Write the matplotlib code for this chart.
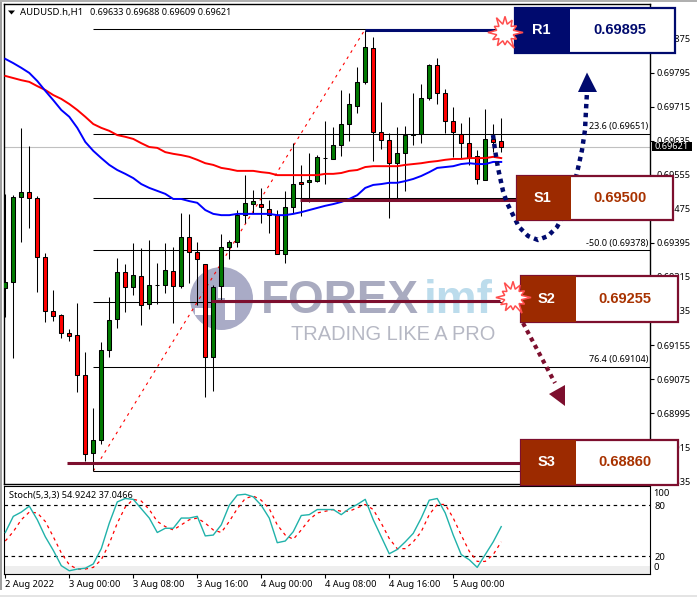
import numpy as np
import matplotlib
matplotlib.use("Agg")
import matplotlib.pyplot as plt
from matplotlib.patches import Rectangle, Polygon, Circle

W, H = 697, 597
FONT = "Noto Sans"
plt.rcParams["font.family"] = [FONT, "DejaVu Sans"]

# ---- data ----
opens = [.69289,.69303,.69503,.69514,.69500,.69362,.69235,.69226,.69183,.69179,.69085,.68901,.68932,.69143,.69216,.69327,
         .69291,.69317,.69251,.69296,.69296,.69329,.69294,.69409,.69374,.69345,.69127,.69294,.69385,.69397,.69460,.69486,
         .69486,.69474,.69460,.69369,.69479,.69538,.69538,.69540,.69594,.69592,.69625,.69674,.69716,.69773,.69852,.69655,
         .69636,.69582,.69606,.69648,.69651,.69735,.69813,.69747,.69681,.69651,.69629,.69599,.69543,.69639,.69633]
closes= [.69303,.69503,.69514,.69500,.69362,.69235,.69223,.69183,.69176,.69085,.68899,.68932,.69143,.69214,.69327,.69291,
         .69320,.69249,.69296,.69296,.69331,.69294,.69409,.69374,.69357,.69127,.69291,.69385,.69397,.69460,.69489,.69493,
         .69479,.69460,.69369,.69479,.69533,.69533,.69543,.69596,.69594,.69625,.69674,.69721,.69773,.69854,.69655,.69636,
         .69582,.69606,.69648,.69651,.69735,.69813,.69747,.69681,.69655,.69629,.69594,.69545,.69639,.69632,.69621]
highs = [.69510,.69507,.69665,.69622,.69505,.69371,.69284,.69228,.69193,.69254,.69139,.69007,.69162,.69268,.69360,.69345,
         .69395,.69383,.69402,.69348,.69395,.69385,.69465,.69463,.69397,.69345,.69296,.69416,.69402,.69472,.69554,.69519,
         .69524,.69496,.69472,.69517,.69629,.69578,.69606,.69601,.69681,.69667,.69754,.69747,.69808,.69894,.69878,.69726,
         .69653,.69667,.69669,.69747,.69768,.69815,.69829,.69756,.69714,.69676,.69691,.69613,.69709,.69674,.69688]
lows  = [.69221,.69125,.69397,.69430,.69280,.69209,.69211,.69172,.69164,.69045,.68883,.68859,.68923,.69127,.69195,.69233,
         .69272,.69202,.69240,.69251,.69277,.69207,.69289,.69301,.69249,.69033,.69047,.69261,.69357,.69385,.69442,.69465,
         .69442,.69418,.69369,.69348,.69465,.69458,.69491,.69538,.69533,.69592,.69599,.69634,.69700,.69768,.69587,.69615,
         .69453,.69496,.69517,.69625,.69629,.69730,.69721,.69653,.69597,.69594,.69578,.69533,.69543,.69608,.69609]
ma_red = [.69787,.69782,.69777,.69773,.69763,.69754,.69742,.69733,.69721,.69707,.69691,.69674,.69665,.69658,.69648,.69644,
          .69639,.69629,.69620,.69618,.69608,.69604,.69601,.69597,.69590,.69582,.69578,.69571,.69568,.69564,.69564,.69564,
          .69561,.69559,.69554,.69554,.69554,.69554,.69554,.69554,.69557,.69557,.69559,.69564,.69566,.69573,.69575,.69575,
          .69575,.69575,.69578,.69580,.69582,.69585,.69587,.69590,.69592,.69592,.69594,.69594,.69594,.69597,.69594]
ma_blue= [.69827,.69817,.69806,.69794,.69775,.69752,.69730,.69707,.69691,.69665,.69632,.69611,.69594,.69578,.69566,.69557,
          .69547,.69533,.69524,.69517,.69510,.69498,.69498,.69493,.69489,.69472,.69463,.69460,.69460,.69463,.69463,.69463,
          .69463,.69463,.69460,.69460,.69463,.69467,.69472,.69477,.69482,.69486,.69491,.69498,.69507,.69524,.69531,.69533,
          .69536,.69536,.69540,.69545,.69552,.69561,.69571,.69573,.69575,.69580,.69582,.69580,.69580,.69585,.69585]
stoch_k = [48,67,72,79,63,43,27,9,3,5,6,11,29,59,84,88,87,76,65,48,53,53,65,65,67,44,45,57,80,92,93,90,80,65,36,38,49,68,69,
           75,75,75,69,76,81,87,63,43,23,28,37,47,65,86,88,71,45,22,16,7,22,37,54.92]
stoch_d = [38,49,63,72,71,61,43,24,10,5,5,7,16,35,59,78,87,85,75,61,55,51,57,63,65,59,51,48,61,76,88,91,86,76,57,45,40,51,63,
           71,73,75,73,73,77,81,75,59,41,29,29,37,49,69,81,81,65,45,26,14,14,22,37.05]
fib_levels = [.69897, .69651, .69500, .69378, .69255, .69104, .68859]
fib_labels = {.69651: "23.6 (0.69651)", .69378: "-50.0 (0.69378)", .69104: "76.4 (0.69104)"}
fib_start, fib_end = 11, 45
r1, s1, s2, s3 = .69894, .69495, .69259, .68877
last_price = .69621
price_ticks = [.69875,.69795,.69715,.69635,.69555,.69475,.69395,.69315,.69235,.69155,.69075,.68995,.68915,.68835]
time_ticks = [0, 8, 16, 24, 32, 40, 48, 56]
time_labels = ["2 Aug 2022","3 Aug 00:00","3 Aug 08:00","3 Aug 16:00","4 Aug 00:00","4 Aug 08:00","4 Aug 16:00","5 Aug 00:00"]
stoch_ticks = [80, 20]
boxes = [("R1", "0.69895"), ("S1", "0.69500"), ("S2", "0.69255"), ("S3", "0.68860")]

NAVY, MAROON, RUST = "#000a6e", "#7d0f2e", "#9c2a00"

fig = plt.figure(figsize=(W/100, H/100), dpi=100, facecolor="white")
def pax(x0, y0, x1, y1, **k):
    return fig.add_axes([x0/W, 1-y1/H, (x1-x0)/W, (y1-y0)/H], **k)

# ---- main price panel ----
ax = pax(4.3, 4.3, 650, 484)
ax.set_xlim(-0.125, 80.6)
ax.set_ylim(.688286, .699552)
x = np.arange(len(opens))

# watermark (below the marks)
ax.set_facecolor("none")
wm = pax(0, 0, W, H, zorder=-1)
wm.set_xlim(0, W); wm.set_ylim(H, 0); wm.axis("off")
wm.add_patch(Circle((221.5, 298.5), 31.5, fc="#a9abc6", ec="none"))
wm.add_patch(Rectangle((218, 287), 17, 11, fc="white", ec="none"))
wm.add_patch(Rectangle((225, 287), 10, 33, fc="white", ec="none"))
wm.add_patch(Rectangle((195, 308), 20, 7, fc="white", ec="none"))
wm.text(261, 301, "FOREX", fontsize=33, fontweight="bold", family="Liberation Sans", color="#a9abc0", va="center", ha="left")
wm.text(424, 301, "imf", fontsize=33, fontweight="bold", family="Liberation Sans", color="#bcdcec", va="center", ha="left")
wm.text(291, 334, "TRADING LIKE A PRO", fontsize=14.4, family="Liberation Sans", color="#b6b8c4", va="center", ha="left")

# grid-like levels
ax.axhline(last_price, color="#c0c0c0", lw=0.8, zorder=1)
for lv in fib_levels:
    ax.hlines(lv, fib_start, 80.6, color="black", lw=0.75, zorder=2)
ax.plot([fib_start, fib_end], [fib_levels[-1], fib_levels[0]], color="red", lw=0.8, ls=(0, (2.5, 4)), zorder=2)
for lv, t in fib_labels.items():
    ax.text(80.4, lv + .00006, t, ha="right", va="bottom", fontsize=6.5, color="black", zorder=3)

# candles
for i in x:
    o, c, h, l = opens[i], closes[i], highs[i], lows[i]
    ax.vlines(i, l, h, color="black", lw=0.75, zorder=3)
    col = "#007a00" if c >= o else "#ff0000"
    lo, hi = min(o, c), max(o, c)
    ax.add_patch(Rectangle((i-0.25, lo), 0.5, hi-lo, fc=col, ec="black", lw=0.75, zorder=4))
ax.plot(x, ma_red, color="#ff0000", lw=1.4, zorder=5)
ax.plot(x, ma_blue, color="#0000ff", lw=1.4, zorder=5)

# support / resistance lines
ax.hlines(r1, fib_end, 61.1, color=NAVY, lw=2.2, zorder=6)
ax.hlines(s1, 36.8, 64, color=MAROON, lw=2.2, zorder=6)
ax.hlines(s2, 25.7, 61.8, color=MAROON, lw=2.2, zorder=6)
ax.hlines(s3, 7.7, 64.5, color=MAROON, lw=2.2, zorder=6)

ax.set_xticks([])
ax.yaxis.tick_right()
ax.set_yticks(price_ticks)
ax.set_yticklabels([f"{p:.5f}" for p in price_ticks], fontsize=6.6)
ax.tick_params(axis="y", length=3, width=0.8, pad=1.5, color="black")
for s in ax.spines.values():
    s.set_linewidth(1.0)

# ---- stochastic panel ----
st = pax(4.3, 486, 650, 574)
st.set_xlim(-0.125, 80.6)
st.set_ylim(-0.8, 102.7)
st.axhspan(-0.8, 9, color="#eeeeee", lw=0, zorder=0)
st.axhline(80, color="black", lw=0.85, ls=(0, (3, 3)), zorder=1)
st.axhline(20, color="black", lw=0.85, ls=(0, (3, 3)), zorder=1)
st.plot(x, stoch_d, color="#ff0000", lw=0.9, ls=(0, (2.5, 3)), zorder=2)
st.plot(x, stoch_k, color="#20b2aa", lw=1.0, zorder=3)
st.yaxis.tick_right()
st.set_yticks(stoch_ticks)
st.set_yticklabels([str(v) for v in stoch_ticks], fontsize=6.8)
st.tick_params(axis="y", length=0, pad=3)
st.set_xticks(time_ticks)
st.set_xticklabels(time_labels, fontsize=6.7, ha="left")
st.tick_params(axis="x", length=3, width=0.8, pad=1.5)
st.text(81.0, 94, "100", fontsize=6.8, va="center", ha="left", clip_on=False)
st.text(81.0, 7, "0", fontsize=6.8, va="center", ha="left", clip_on=False)
st.text(0.0075, 0.89, "Stoch(5,3,3) 54.9242 37.0466", transform=st.transAxes, fontsize=6.6, va="center", ha="left", zorder=6)

# ---- annotation overlay in pixel coordinates ----
ov = pax(0, 0, W, H, zorder=10)
ov.set_xlim(0, W); ov.set_ylim(H, 0); ov.axis("off"); ov.patch.set_alpha(0)

# window edge
ov.add_patch(Rectangle((0, 0), 2, 590, fc="#a0a0a0", ec="none"))
ov.add_patch(Rectangle((0, 0), W, 1.5, fc="#b0b0b0", ec="none"))
ov.add_patch(Rectangle((0, 594.5), W, 2.5, fc="#e4e4e4", ec="none"))

# chart header
ov.add_patch(Polygon([(8, 10.5), (15, 10.5), (11.5, 14.5)], fc="black", ec="none"))
ov.text(20.5, 12.5, "AUDUSD.h,H1", fontsize=6.9, va="center", ha="left")
ov.text(90, 12.5, "0.69633 0.69688 0.69609 0.69621", fontsize=6.5, va="center", ha="left")

# current price tag
ov.add_patch(Rectangle((651.5, 142), 40.5, 9, fc="black", ec="none"))
ov.text(672, 146.3, f"{last_price:.5f}", color="white", fontsize=6.6, ha="center", va="center")

# dotted arrows (below the boxes)
cx = [493,495,498,503,507,512,519,528,538,548,557,565,571,577,582,585,586,587]
cy = [135,150,168,191,203,213,227,236,240,236,227,212,195,173,150,130,110,92]
ov.plot(cx, cy, color=NAVY, lw=3.2, ls=(0, (1, 1.0)), zorder=2)
ov.add_patch(Polygon([(587, 72.5), (578, 92), (597, 92)], fc=NAVY, ec="none", zorder=2))
ov.plot([523, 555], [323, 383], color=MAROON, lw=3, ls=(0, (1, 1)), zorder=2)
ov.add_patch(Polygon([(565, 385), (549, 394), (565, 406)], fc=MAROON, ec="none", zorder=2))

# boxes
geom = [(515, 8, 675, 53, 569.5, 541, 620, 30.5, NAVY, NAVY, NAVY),
        (516.5, 176, 672.5, 220, 571, 542, 620, 198, RUST, MAROON, "#a83200"),
        (521, 276, 678, 321.5, 576, 547, 625, 299, RUST, MAROON, "#a83200"),
        (521, 440, 678, 485, 576, 547, 625, 462, RUST, MAROON, "#a83200")]
for (name, val), (x0, y0, x1, y1, xm, xa, xb, yt, fill, edge, tc) in zip(boxes, geom):
    ov.add_patch(Rectangle((x0, y0), x1-x0, y1-y0, fc="white", ec=edge, lw=1.6, zorder=3))
    ov.add_patch(Rectangle((x0, y0), xm-x0, y1-y0, fc=fill, ec="none", zorder=4))
    ov.text(xa, yt, name, color="white", fontweight="bold", family="Liberation Sans", fontsize=10.5, ha="center", va="center", zorder=5)
    ov.text(xb, yt, val, color=tc, fontweight="bold", family="Liberation Sans", fontsize=10.5, ha="center", va="center", zorder=5)

# starbursts
radii_out = [19, 14, 19, 13, 16, 15, 18, 13, 18, 17, 15, 14]
for cxs, cys in [(505, 32.5), (513, 297.5)]:
    ang = np.linspace(0, 2*np.pi, 2*len(radii_out), endpoint=False)
    rr = np.empty(ang.size)
    rr[0::2] = radii_out
    rr[1::2] = 9
    pts = np.c_[cxs + rr*np.cos(ang)*0.95, cys + rr*np.sin(ang)*0.95]
    ov.add_patch(Polygon(pts, fc="white", ec="#ff4d4d", lw=1.1, zorder=6))

fig.savefig("out.png", dpi=100)
